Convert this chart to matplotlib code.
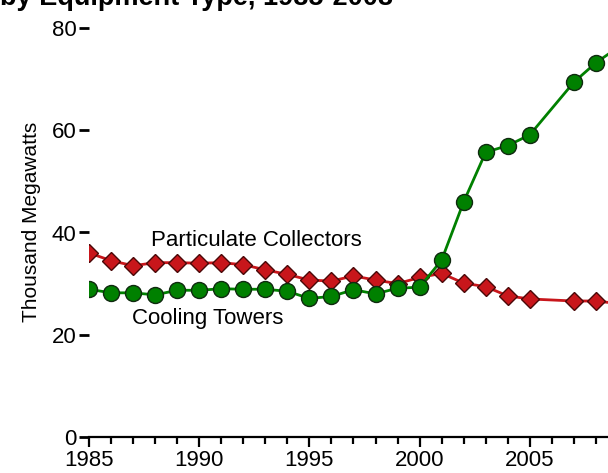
import matplotlib
matplotlib.use("Agg")
import matplotlib.pyplot as plt
from matplotlib.ticker import MultipleLocator

plt.rcParams['font.family'] = ['Liberation Sans', 'DejaVu Sans']

# data (no 2006 value)
years = [1985, 1986, 1987, 1988, 1989, 1990, 1991, 1992, 1993, 1994, 1995, 1996,
         1997, 1998, 1999, 2000, 2001, 2002, 2003, 2004, 2005, 2007, 2008, 2009]
cooling = [28.9, 28.2, 28.2, 27.8, 28.7, 28.7, 29.0, 28.9, 28.9, 28.5, 27.1, 27.5,
           28.8, 28.0, 29.1, 29.3, 34.6, 46.0, 55.7, 57.0, 59.1, 69.4, 73.2, 76.2]
particulate = [36.0, 34.5, 33.5, 34.1, 34.1, 34.0, 34.1, 33.7, 32.7, 31.8, 30.7, 30.5,
               31.5, 30.7, 30.0, 31.2, 32.0, 30.1, 29.4, 27.6, 27.0, 26.6, 26.6, 26.1]
yticks = [0, 20, 40, 60, 80]
xticks = [1985, 1990, 1995, 2000, 2005]

fig = plt.figure(figsize=(6.08, 4.73), dpi=100)
ax = fig.add_axes([89/608, 36/473, 551/608, 409/473])

red = '#c8161b'
green = '#008000'
ax.plot(years, particulate, color=red, lw=2, marker='D', ms=8.8,
        mfc=red, mec='#4a0808', mew=1, zorder=3)
ax.plot(years, cooling, color=green, lw=2, marker='o', ms=11.5,
        mfc=green, mec='#0f2a0f', mew=1, zorder=4)

ax.set_xlim(1985, 2010)
ax.set_ylim(0, 80)

for s in ['top', 'right', 'left']:
    ax.spines[s].set_visible(False)
ax.spines['bottom'].set_linewidth(1.6)

ax.set_xticks(xticks)
ax.xaxis.set_minor_locator(MultipleLocator(1))
ax.set_yticks(yticks)
ax.tick_params(axis='x', which='major', length=7, width=1.6, labelsize=16, pad=2)
ax.tick_params(axis='x', which='minor', length=5, width=1.6)
ax.tick_params(axis='y', length=7, width=2, labelsize=16, pad=2)

ax.text(1992.6, 38.4, 'Particulate Collectors', ha='center', va='center', fontsize=16)
ax.text(1990.4, 23.1, 'Cooling Towers', ha='center', va='center', fontsize=16)

fig.text(32/608, 1 - 222/473, 'Thousand Megawatts', rotation=90,
         ha='center', va='center', fontsize=15)
fig.text(0, 1 - 5/473, 'by Equipment Type, 1985-2008', ha='left', va='baseline',
         fontsize=19.5, fontweight='bold')

fig.savefig('out.png', dpi=100)
